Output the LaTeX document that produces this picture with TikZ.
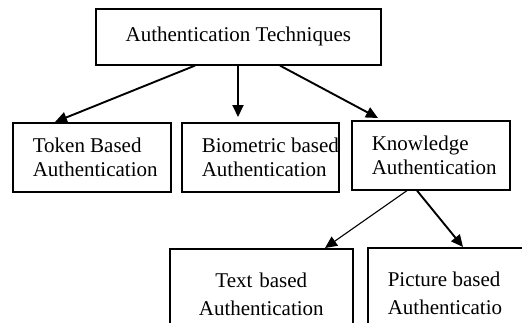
\documentclass[tikz,border=0pt]{standalone}
\usepackage{fontspec}
\setmainfont{Liberation Serif}
\usetikzlibrary{arrows.meta,calc}
\begin{document}
\begin{tikzpicture}[x=1pt,y=-1pt,
  box/.style={draw, line width=1.6pt, anchor=north west, inner ysep=0pt, inner xsep=20pt,
    font=\fontsize{21}{24}\selectfont},
  lbox/.style={box, align=flush left},
  arr/.style={line width=1.9pt, -{Triangle[length=12pt,width=11pt]}},
  thinarr/.style={line width=1.1pt, -{Triangle[length=12pt,width=11pt]}}]
\useasboundingbox (0,0) rectangle (522,322);
\clip (0,0) rectangle (522,322);
\fill[white] (0,0) rectangle (522,322);
\node[box, align=center, minimum width=285pt, minimum height=56pt] (top) at (95,8) {Authentication Techniques};
\node[lbox, text width=118pt, minimum height=69pt] (token) at (12,122) {\mbox{Token Based}\\\mbox{Authentication}};
\node[lbox, text width=117pt, minimum height=69pt] (bio) at (181,122) {\mbox{Biometric based}\\\mbox{Authentication}};
\node[lbox, text width=118pt, minimum height=69pt] (know) at (351,120) {\mbox{Knowledge}\\\mbox{Authentication}};
\node[box, align=center, text width=143pt, minimum height=92pt, font=\fontsize{21}{28}\selectfont] (text) at (169,248) {Text based\\Authentication};
\node[lbox, text width=130pt, minimum height=92pt, font=\fontsize{21}{28}\selectfont] (pic) at (367,247) {\mbox{Picture based}\\\mbox{Authenticatio}};
\draw[arr] ($(top.south west)+(100,0)$) -- ($(token.north west)+(43,0)$);
\draw[arr] ($(top.south west)+(143,0)$) -- ($(bio.north west)+(57,-5)$);
\draw[arr] ($(top.south west)+(185,0)$) -- ($(know.north west)+(27,-2)$);
\draw[thinarr] ($(know.south west)+(56,0)$) -- ($(text.north west)+(156,0)$);
\draw[arr] ($(know.south west)+(66,0)$) -- ($(pic.north west)+(96,0)$);
\end{tikzpicture}
\end{document}
